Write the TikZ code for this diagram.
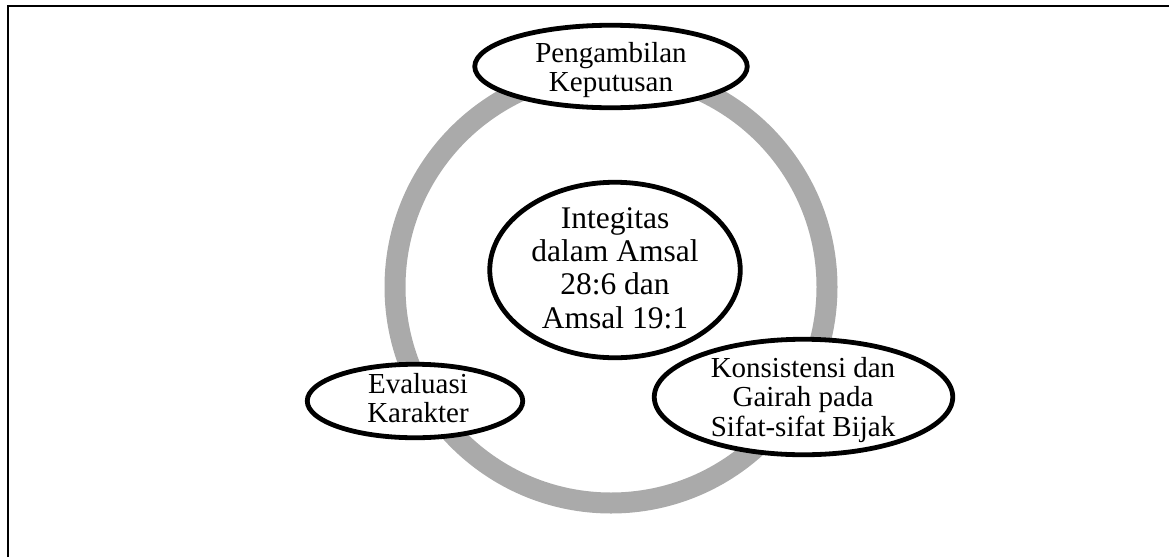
\documentclass[tikz,border=0pt]{standalone}
\usepackage{fontspec}
\setmainfont{Liberation Serif}
\usetikzlibrary{shapes.geometric}
\definecolor{ringgray}{RGB}{170,170,170}
\tikzset{
  ell/.style={ellipse, draw=black, line width=4.8pt, fill=white, inner sep=0pt},
  outertxt/.style={align=center, inner sep=0pt, font=\fontsize{29}{29.5}\selectfont},
  centertxt/.style={align=center, inner sep=0pt, font=\fontsize{31.5}{33.3}\selectfont},
  ring/.style={draw=ringgray, line width=21pt},
  frameline/.style={draw=black, line width=2.6pt}
}
\begin{document}
\begin{tikzpicture}[x=1pt,y=-1pt]
\useasboundingbox (0,0) rectangle (1169,557);
% frame (top and left edges)
\coordinate (fbl) at (8,557);
\coordinate (ftl) at (8,6);
\coordinate (ftr) at (1169,6);
\draw[frameline] (fbl) -- (ftl) -- (ftr);
% grey ring
\coordinate (rc) at (611,287);
\draw[ring] (rc) circle[radius=216pt];
% ellipses
\node[ell, minimum width=272.5pt, minimum height=82.5pt] (top) at (611,66.5) {};
\node[outertxt] (toptxt) at (611,70) {Pengambilan\\Keputusan};
\node[ell, minimum width=250.5pt, minimum height=175.5pt] (mid) at (615,270) {};
\node[centertxt] (midtxt) at (615,268) {Integitas\\dalam Amsal\\28:6 dan\\Amsal 19:1};
\node[ell, minimum width=215.5pt, minimum height=73.5pt] (left) at (415,401) {};
\node[outertxt] (lefttxt) at (418,398) {Evaluasi\\Karakter};
\node[ell, minimum width=298.5pt, minimum height=115.5pt] (right) at (803.5,397) {};
\node[outertxt] (righttxt) at (803,400) {Konsistensi dan\\Gairah pada\\Sifat-sifat Bijak};
\end{tikzpicture}
\end{document}
